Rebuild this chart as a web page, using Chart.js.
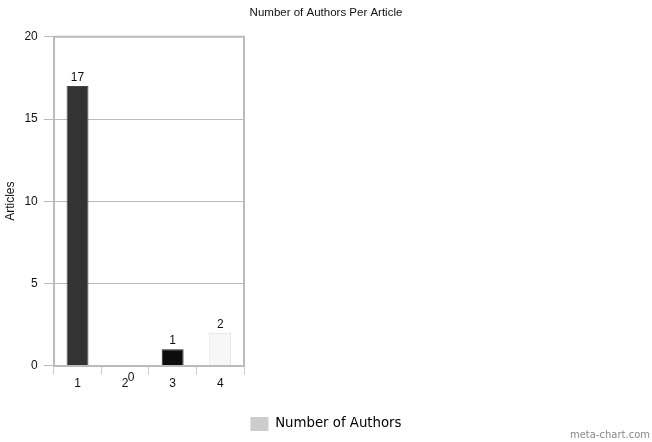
<!DOCTYPE html>
<html>
<head>
<meta charset="utf-8">
<script src="https://cdn.jsdelivr.net/npm/chart.js@4"></script>
<style>
  html, body { margin: 0; padding: 0; background: #fff; }
  #wrap { width: 652px; height: 442px; }
</style>
</head>
<body>
<div id="wrap"><canvas id="chart"></canvas></div>
<script>
var categories = ["1", "2", "3", "4"];
var articles = [17, 0, 1, 2];
var seriesName = "Number of Authors";
var yTicks = [0, 5, 10, 15, 20];

var barColors = ["#333333", "#333333", "#0d0d0d", "#f7f7f7"];
var barBorders = ["#444444", "#444444", "#222222", "#dddddd"];

// value labels above bars, frame round the plot, watermark
var extras = {
  id: "extras",
  afterDatasetsDraw: function(chart) {
    var ctx = chart.ctx;
    var meta = chart.getDatasetMeta(0);
    ctx.save();
    ctx.font = "12px 'Liberation Sans', Arial, sans-serif";
    ctx.fillStyle = "#111";
    ctx.textAlign = "center";
    ctx.textBaseline = "bottom";
    meta.data.forEach(function(bar, i) {
      var v = articles[i];
      if (v === 0) {
        ctx.fillText(String(v), bar.x + 6, bar.y + 18);
      } else {
        ctx.fillText(String(v), bar.x, bar.y - 2);
      }
    });
    ctx.restore();
  },
  afterDraw: function(chart) {
    var ctx = chart.ctx;
    var a = chart.chartArea;
    ctx.save();
    ctx.strokeStyle = "#bbbbbb";
    ctx.lineWidth = 2;
    ctx.beginPath();
    ctx.moveTo(a.left, a.top);
    ctx.lineTo(a.right, a.top);
    ctx.lineTo(a.right, a.bottom);
    ctx.stroke();
    ctx.font = "10px 'DejaVu Sans', sans-serif";
    ctx.fillStyle = "#888";
    ctx.textAlign = "right";
    ctx.textBaseline = "alphabetic";
    ctx.fillText("meta-chart.com", 650, 438);
    ctx.restore();
  }
};

new Chart(document.getElementById("chart"), {
  type: "bar",
  data: {
    labels: categories,
    datasets: [{
      label: seriesName,
      data: articles,
      backgroundColor: barColors,
      borderColor: barBorders,
      borderWidth: 1,
      barPercentage: 1,
      categoryPercentage: 0.46
    }]
  },
  options: {
    responsive: true,
    maintainAspectRatio: false,
    animation: false,
    layout: { padding: { left: 0, right: 0, top: 0, bottom: 1 } },
    plugins: {
      title: {
        display: true,
        text: "Number of Authors Per Article",
        color: "#111",
        font: { family: "'Liberation Sans', Arial, sans-serif", size: 11.5, weight: "normal" },
        padding: { top: 6, bottom: 17 }
      },
      legend: {
        position: "bottom",
        labels: {
          color: "#333",
          font: { family: "'DejaVu Sans', sans-serif", size: 13.3 },
          boxWidth: 18,
          boxHeight: 14,
          padding: 10,
          generateLabels: function() {
            return [{ text: seriesName, fillStyle: "#cccccc", strokeStyle: "#cccccc", lineWidth: 0 }];
          }
        }
      },
      tooltip: { enabled: false }
    },
    scales: {
      x: {
        grid: { display: true, offset: true, drawOnChartArea: false, drawTicks: true, tickLength: 9, color: "#cccccc" },
        border: { display: true, color: "#bbbbbb", width: 2 },
        ticks: { color: "#111", font: { family: "'Liberation Sans', Arial, sans-serif", size: 12 }, padding: 2 },
        afterFit: function(axis) { axis.height += 14; }
      },
      y: {
        min: 0,
        max: 20,
        afterBuildTicks: function(axis) {
          axis.ticks = yTicks.map(function(v) { return { value: v }; });
        },
        grid: { color: "#bbbbbb", tickLength: 10, lineWidth: 1 },
        border: { display: true, color: "#bbbbbb", width: 2 },
        ticks: { color: "#111", font: { family: "'Liberation Sans', Arial, sans-serif", size: 12 }, padding: 6 },
        title: {
          display: true,
          text: "Articles",
          color: "#111",
          font: { family: "'Liberation Sans', Arial, sans-serif", size: 12 },
          padding: { top: 3, bottom: 1 }
        }
      },
      // empty right-hand spacer so the plot keeps to the left part of the canvas
      spacer: {
        type: "linear",
        position: "right",
        display: true,
        grid: { display: false, drawTicks: false },
        border: { display: false },
        ticks: { display: false },
        afterFit: function(axis) { axis.width = 408; }
      }
    }
  },
  plugins: [extras]
});
</script>
</body>
</html>
